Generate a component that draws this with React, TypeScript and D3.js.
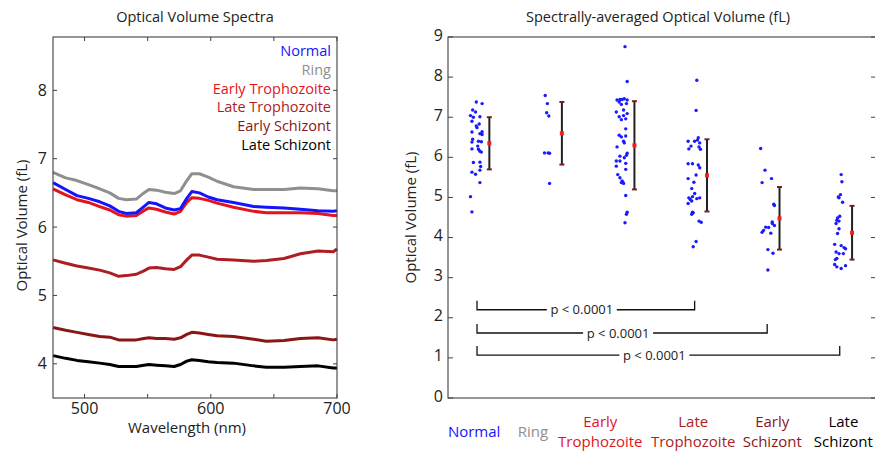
import React from 'react';
import * as d3 from 'd3';

// ---------- Left panel: spectra ----------
const wavelengths = [475, 485, 494, 503, 512, 520, 527, 533, 541, 547, 551, 557, 564, 571, 576, 581, 585, 591, 598, 605, 618, 634, 644, 658, 671, 685, 697, 700];
const specNormal = [6.65, 6.55, 6.46, 6.42, 6.37, 6.31, 6.23, 6.20, 6.21, 6.30, 6.36, 6.34, 6.28, 6.25, 6.27, 6.42, 6.52, 6.50, 6.44, 6.40, 6.36, 6.30, 6.29, 6.28, 6.26, 6.24, 6.23, 6.24];
const specRing = [6.80, 6.72, 6.68, 6.62, 6.56, 6.50, 6.42, 6.40, 6.41, 6.50, 6.55, 6.54, 6.51, 6.49, 6.53, 6.68, 6.78, 6.78, 6.73, 6.67, 6.59, 6.55, 6.55, 6.55, 6.57, 6.56, 6.53, 6.53];
const specEarlyTroph = [6.56, 6.47, 6.40, 6.36, 6.30, 6.25, 6.18, 6.16, 6.17, 6.24, 6.28, 6.26, 6.22, 6.19, 6.23, 6.36, 6.43, 6.42, 6.39, 6.35, 6.29, 6.23, 6.21, 6.21, 6.21, 6.20, 6.17, 6.17];
const specLateTroph = [5.52, 5.47, 5.43, 5.40, 5.37, 5.33, 5.28, 5.29, 5.31, 5.36, 5.40, 5.41, 5.39, 5.38, 5.42, 5.52, 5.59, 5.59, 5.56, 5.53, 5.52, 5.50, 5.51, 5.54, 5.61, 5.65, 5.64, 5.68];
const specEarlySchizont = [4.53, 4.49, 4.46, 4.43, 4.40, 4.39, 4.35, 4.35, 4.35, 4.37, 4.38, 4.37, 4.37, 4.36, 4.38, 4.43, 4.46, 4.45, 4.43, 4.41, 4.40, 4.36, 4.33, 4.34, 4.37, 4.38, 4.35, 4.36];
const specLateSchizont = [4.12, 4.08, 4.05, 4.03, 4.01, 3.99, 3.96, 3.96, 3.96, 3.98, 3.99, 3.98, 3.97, 3.96, 3.99, 4.04, 4.06, 4.05, 4.03, 4.02, 4.01, 3.97, 3.95, 3.95, 3.96, 3.97, 3.94, 3.94];

const stageNames = ['Normal', 'Ring', 'Early Trophozoite', 'Late Trophozoite', 'Early Schizont', 'Late Schizont'];
const stageLabelLines = [['Normal'], ['Ring'], ['Early', 'Trophozoite'], ['Late', 'Trophozoite'], ['Early', 'Schizont'], ['Late', 'Schizont']];
const leftYTicks = [4, 5, 6, 7, 8];
const leftXTicks = [500, 550, 600, 650, 700];
const leftXTickLabels = [500, 600, 700];

// ---------- Right panel: dots ----------
const normalVals = [7.38, 7.34, 7.18, 7.13, 7.04, 7.00, 7.01, 6.90, 6.78, 6.83, 6.74, 6.63, 6.59, 6.64, 6.57, 6.45, 6.38, 6.40, 6.39, 6.21, 6.28, 6.20, 6.15, 6.13, 5.87, 5.88, 5.77, 5.68, 5.63, 5.58, 5.37, 5.02, 4.64];
const normalJit = [-0.09, -0.01, -0.14, -0.10, -0.17, -0.13, -0.04, -0.15, -0.09, -0.05, -0.08, -0.15, -0.04, -0.01, -0.01, -0.14, -0.15, -0.06, -0.02, -0.15, -0.07, -0.06, -0.04, -0.02, -0.13, -0.04, -0.03, -0.04, -0.15, -0.10, -0.04, -0.17, -0.15];
const ringVals = [7.54, 7.34, 7.11, 7.03, 6.11, 6.11, 6.10, 5.35];
const ringJit = [-0.14, -0.11, -0.12, -0.09, -0.15, -0.10, -0.08, -0.08];
const etVals = [8.76, 7.89, 7.43, 7.44, 7.44, 7.46, 7.43, 7.38, 7.32, 7.34, 7.13, 7.18, 7.01, 7.04, 7.09, 6.94, 6.96, 6.71, 6.55, 6.51, 6.53, 6.40, 6.36, 6.26, 6.10, 6.05, 6.03, 5.99, 5.91, 5.91, 5.85, 5.78, 5.70, 5.57, 5.49, 5.41, 5.37, 5.35, 5.38, 5.05, 4.63, 4.58, 4.37];
const etJit = [-0.04, -0.01, -0.15, -0.11, -0.08, -0.05, -0.01, -0.12, -0.09, -0.02, -0.16, -0.06, -0.12, -0.06, -0.01, -0.09, -0.03, -0.03, -0.12, -0.09, -0.03, -0.06, -0.05, -0.15, -0.01, -0.02, -0.11, -0.05, -0.16, -0.11, -0.03, -0.16, -0.03, -0.14, -0.11, -0.08, -0.09, -0.06, -0.07, -0.03, -0.01, -0.02, -0.04];
const ltVals = [7.92, 7.17, 6.40, 6.28, 6.21, 6.40, 6.43, 6.49, 6.36, 6.20, 6.26, 5.84, 5.84, 5.81, 5.74, 5.56, 5.47, 5.38, 5.22, 5.10, 4.99, 4.95, 5.02, 4.97, 4.99, 4.91, 4.85, 4.63, 4.58, 4.62, 4.41, 4.38, 3.90, 3.77];
const ltJit = [-0.05, -0.06, -0.17, -0.13, -0.16, -0.08, -0.04, -0.03, -0.01, 0.00, -0.02, -0.17, -0.11, -0.03, -0.01, -0.06, -0.17, -0.09, -0.12, -0.08, -0.16, -0.14, -0.11, -0.05, -0.01, -0.12, -0.17, -0.11, -0.12, -0.10, -0.02, 0.01, -0.06, -0.10];
const esVals = [6.22, 5.68, 5.37, 5.47, 4.83, 4.80, 4.39, 4.35, 4.30, 4.26, 4.25, 4.18, 4.13, 4.11, 3.70, 3.61, 3.19];
const esJit = [-0.17, -0.11, -0.15, -0.02, 0.01, 0.02, -0.01, -0.01, 0.02, -0.10, -0.06, -0.13, -0.15, -0.03, -0.07, 0.00, -0.07];
const lsVals = [5.57, 5.39, 5.07, 5.01, 4.99, 4.88, 4.53, 4.49, 4.43, 4.41, 4.35, 4.22, 4.10, 3.83, 3.80, 3.75, 3.72, 3.64, 3.60, 3.60, 3.48, 3.45, 3.33, 3.27, 3.23, 3.30];
const lsJit = [-0.06, -0.05, -0.07, -0.10, -0.09, -0.04, -0.08, -0.11, -0.12, -0.09, -0.13, -0.09, -0.11, -0.15, -0.06, -0.02, 0.00, -0.13, -0.09, -0.03, -0.12, -0.14, -0.15, -0.12, -0.06, 0.00];

const stageMeans = [6.35, 6.60, 6.30, 5.55, 4.48, 4.12];
const stageSDs = [0.65, 0.78, 1.10, 0.90, 0.78, 0.67];

const bracketFrom = [0, 0, 0];
const bracketTo = [3, 4, 5];
const bracketLevel = [2.2, 1.62, 1.07];
const bracketText = ['p < 0.0001', 'p < 0.0001', 'p < 0.0001'];
const rightYTicks = [0, 1, 2, 3, 4, 5, 6, 7, 8, 9];

// ---------- styles / layout ----------
const stageColors = ['#1414ff', '#8f8f8f', '#e3141b', '#ad1d22', '#8a1616', '#000000'];
const FONT = '"Open Sans", sans-serif';
const AXIS = '#404040';
const labelShift = [-0.12, -0.31, -0.38, -0.10, -0.01, -0.03];
const DOT_SHIFT = -0.08;
const BAR_SHIFT = 0.09;

export default function App() {
  const spectra = [specNormal, specRing, specEarlyTroph, specLateTroph, specEarlySchizont, specLateSchizont];
  const dotVals = [normalVals, ringVals, etVals, ltVals, esVals, lsVals];
  const dotJit = [normalJit, ringJit, etJit, ltJit, esJit, lsJit];

  // left panel
  const L = { left: 53, right: 337, top: 37, bottom: 398 };
  const xL = d3.scaleLinear().domain([475, 700]).range([L.left, L.right]);
  const yL = d3.scaleLinear().domain([3.5, 8.78]).range([L.bottom, L.top]);
  const line = d3.line<number>().x((_, i) => xL(wavelengths[i])).y((d) => yL(d)).curve(d3.curveLinear);

  // right panel
  const R = { left: 448, right: 876, top: 37, bottom: 398 };
  const xR = d3.scaleLinear().domain([0.52, 6.42]).range([R.left, R.right]);
  const yR = d3.scaleLinear().domain([0, 9]).range([R.bottom, R.top]);

  const tickLen = 4;
  const drawOrder = [5, 4, 3, 2, 1, 0];

  return (
    <svg width={875} height={451} style={{ position: 'absolute', left: 0, top: 0, background: '#fff' }} fontFamily={FONT}>
      <rect x={0} y={0} width={875} height={451} fill="#fff" />
      {/* ===== Left panel ===== */}
      <text x={(L.left + L.right) / 2} y={22} textAnchor="middle" fontSize={14.5} fill="#222">Optical Volume Spectra</text>
      {drawOrder.map((k) => (
        <path key={'s' + k} d={line(spectra[k]) || ''} fill="none" stroke={stageColors[k]} strokeWidth={3} strokeLinejoin="round" />
      ))}
      <rect x={L.left} y={L.top} width={L.right - L.left} height={L.bottom - L.top} fill="none" stroke={AXIS} strokeWidth={1.1} />
      {leftYTicks.map((t) => (
        <g key={'ly' + t}>
          <line x1={L.left} x2={L.left + tickLen} y1={yL(t)} y2={yL(t)} stroke={AXIS} />
          <line x1={L.right} x2={L.right - tickLen} y1={yL(t)} y2={yL(t)} stroke={AXIS} />
          <text x={L.left - 6} y={yL(t)} dy="0.35em" textAnchor="end" fontSize={16} fill="#222">{t}</text>
        </g>
      ))}
      {leftXTicks.map((t) => (
        <g key={'lx' + t}>
          <line x1={xL(t)} x2={xL(t)} y1={L.bottom} y2={L.bottom - tickLen} stroke={AXIS} />
          <line x1={xL(t)} x2={xL(t)} y1={L.top} y2={L.top + tickLen} stroke={AXIS} />
        </g>
      ))}
      {leftXTickLabels.map((t) => (
        <text key={'lxl' + t} x={xL(t)} y={L.bottom + 16} textAnchor="middle" fontSize={16} fill="#222">{t}</text>
      ))}
      <text x={(L.left + L.right) / 2 - 8} y={433} textAnchor="middle" fontSize={15} fill="#222">Wavelength (nm)</text>
      <text transform={`translate(27, ${(L.top + L.bottom) / 2 + 8}) rotate(-90)`} textAnchor="middle" fontSize={15} fill="#222">Optical Volume (fL)</text>
      {stageNames.map((n, i) => (
        <text key={'lg' + i} x={L.right - 6} y={56 + i * 18.8} textAnchor="end" fontSize={14.5} fill={stageColors[i]}>{n}</text>
      ))}

      {/* ===== Right panel ===== */}
      <text x={658} y={22} textAnchor="middle" fontSize={14.5} fill="#222">Spectrally-averaged Optical Volume (fL)</text>
      <rect x={R.left} y={R.top} width={R.right - R.left} height={R.bottom - R.top} fill="none" stroke={AXIS} strokeWidth={1.1} />
      {rightYTicks.map((t) => (
        <g key={'ry' + t}>
          <line x1={R.left} x2={R.left + 5} y1={yR(t)} y2={yR(t)} stroke={AXIS} />
          <line x1={R.right} x2={R.right - 5} y1={yR(t)} y2={yR(t)} stroke={AXIS} />
          <text x={R.left - 5} y={yR(t) - 2} dy="0.35em" textAnchor="end" fontSize={16} fill="#222">{t}</text>
        </g>
      ))}
      <text transform={`translate(416, ${(R.top + R.bottom) / 2}) rotate(-90)`} textAnchor="middle" fontSize={15} fill="#222">Optical Volume (fL)</text>

      {dotVals.map((vals, k) => (
        <g key={'d' + k}>
          {vals.map((v, j) => (
            <circle key={j} cx={xR(k + 1 + dotJit[k][j])} cy={yR(v)} r={1.7} fill="#1a1aff" />
          ))}
        </g>
      ))}
      {stageMeans.map((m, k) => {
        const bx = xR(k + 1 + BAR_SHIFT);
        const top = yR(m + stageSDs[k]);
        const bot = yR(m - stageSDs[k]);
        return (
          <g key={'e' + k}>
            <line x1={bx} x2={bx} y1={top} y2={bot} stroke="#222" strokeWidth={2} />
            <line x1={bx - 2.5} x2={bx + 2.5} y1={top} y2={top} stroke="#7a2020" strokeWidth={2} />
            <line x1={bx - 2.5} x2={bx + 2.5} y1={bot} y2={bot} stroke="#7a2020" strokeWidth={2} />
            <rect x={bx - 2} y={yR(m) - 2} width={4} height={4} fill="#ff1a1a" />
          </g>
        );
      })}

      {bracketFrom.map((f, i) => {
        const x1 = xR(f + 1 + DOT_SHIFT);
        const x2 = xR(bracketTo[i] + 1 + DOT_SHIFT);
        const y = yR(bracketLevel[i]);
        const mid = (x1 + x2) / 2 - 4;
        const gap = 35;
        return (
          <g key={'b' + i}>
            <path d={`M${x1},${y - 9}V${y}H${mid - gap}`} fill="none" stroke="#111" strokeWidth={1.3} />
            <path d={`M${mid + gap},${y}H${x2}V${y - 9}`} fill="none" stroke="#111" strokeWidth={1.3} />
            <text x={mid} y={y} dy="0.35em" textAnchor="middle" fontSize={13} fill="#222">{bracketText[i]}</text>
          </g>
        );
      })}

      {stageLabelLines.map((lines, k) => {
        const cx = xR(k + 1 + labelShift[k]);
        return (
          <text key={'cl' + k} x={cx} textAnchor="middle" fontSize={15} fill={stageColors[k]}>
            {lines.length === 1 ? (
              <tspan x={cx} y={437}>{lines[0]}</tspan>
            ) : (
              lines.map((ln, j) => (
                <tspan key={j} x={cx} y={427 + j * 20}>{ln}</tspan>
              ))
            )}
          </text>
        );
      })}
    </svg>
  );
}
